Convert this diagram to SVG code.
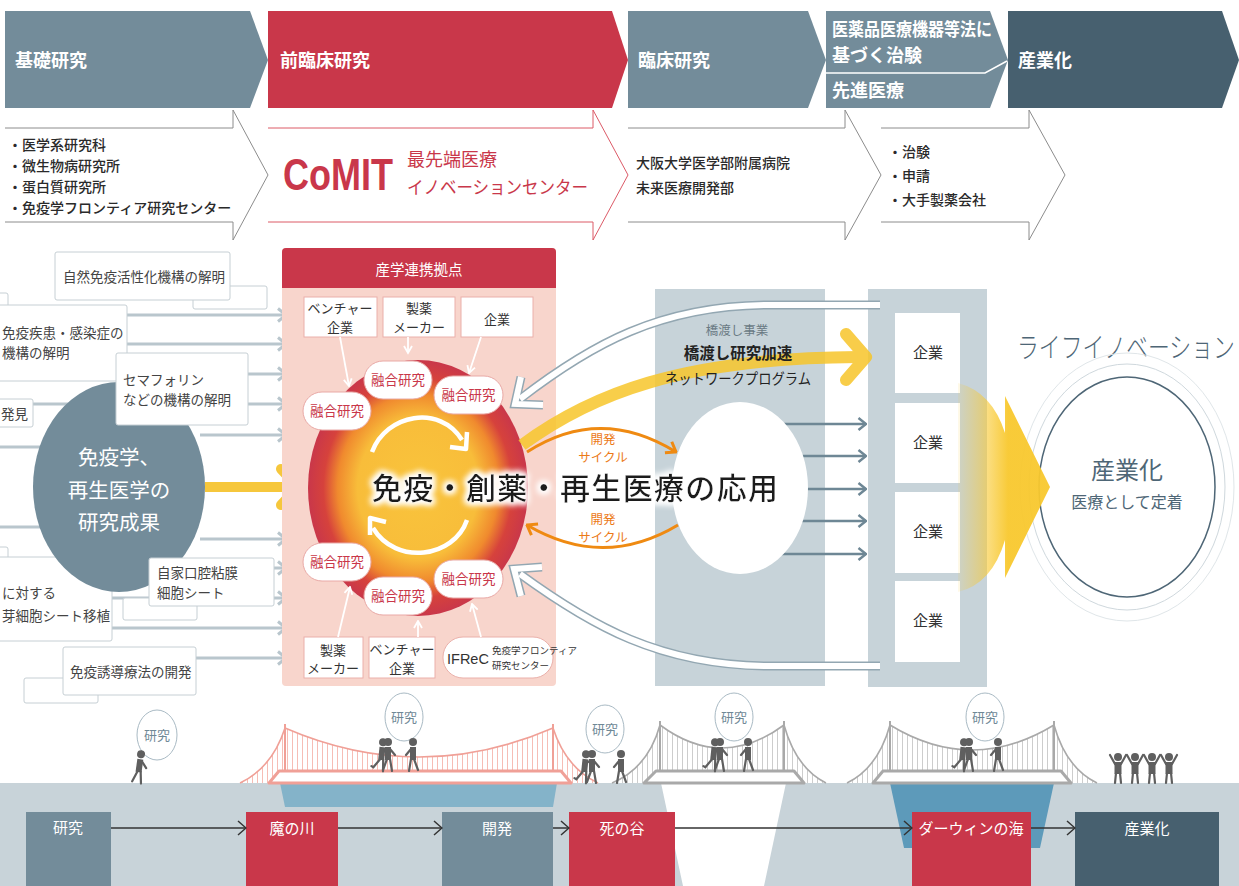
<svg xmlns="http://www.w3.org/2000/svg" width="1239" height="886" viewBox="0 0 1239 886">
<defs>
<style>
text{font-family:'Noto Sans CJK JP','Noto Sans CJK SC',sans-serif}
.hd{fill:#fff;font-size:18px;font-weight:700}
.row{fill:none;stroke-width:1}
.rt{fill:#2a2a2a;font-size:14px;font-weight:500}
.box{fill:#fff;stroke:#c6cfd4;stroke-width:1}
.lbl{fill:#444;font-size:13.5px}
.conn{stroke:#b9c6cd;stroke-width:3;fill:none}
.cbox{fill:#fff;stroke:#eab0aa;stroke-width:1}
.ctx{fill:#333;font-size:13px;text-anchor:middle}
.pill{fill:#fff;stroke:#e9a9a6;stroke-width:1}
.ptx{fill:#c9374a;font-size:13.5px;text-anchor:middle}
.wthin{stroke:#fff;stroke-width:1.8;fill:none}
.band-o{fill:none;stroke:#93a7b2;stroke-width:9}
.band-i{fill:none;stroke:#fff;stroke-width:6}
.org{fill:none;stroke:#ef8a12;stroke-width:3}
.otx{fill:#ec7a17;font-size:12.5px;text-anchor:middle}
.col{fill:#c7d3d9}
.ent{fill:#fff}
.etx{fill:#333;font-size:15px;text-anchor:middle}
.garr{stroke:#6e8795;stroke-width:2.5;fill:none}
.bt{fill:#fff;font-size:15px;text-anchor:middle}
.barr{stroke:#333;stroke-width:1.5;fill:none}
.bub{fill:#fff;stroke:#a9bac4;stroke-width:1}
.btx{fill:#6f8896;font-size:13px;text-anchor:middle}
.pk{fill:none;stroke:#f0a097}
.gy{fill:none;stroke:#a9a9a9}
.fig{fill:#5f5f5f}
.lim{stroke:#5f5f5f;stroke-width:2.2;fill:none;stroke-linecap:round}
</style>
<marker id="mGray" viewBox="0 0 11 16" refX="9.5" refY="8" markerWidth="11" markerHeight="16" markerUnits="userSpaceOnUse" orient="auto"><path d="M1.5 1.5 L9.5 8 L1.5 14.5" fill="none" stroke="#b9c6cd" stroke-width="3"/></marker>
<marker id="mSlate" viewBox="0 0 10 14" refX="9" refY="7" markerWidth="10" markerHeight="14" markerUnits="userSpaceOnUse" orient="auto"><path d="M1.5 1 L9 7 L1.5 13" fill="none" stroke="#6e8795" stroke-width="2.5"/></marker>
<marker id="mDark" viewBox="0 0 10 16" refX="9" refY="8" markerWidth="10" markerHeight="16" markerUnits="userSpaceOnUse" orient="auto"><path d="M1 1 L9 8 L1 15" fill="none" stroke="#333" stroke-width="1.5"/></marker>
<marker id="mOrg" viewBox="0 0 12 16" refX="10.5" refY="8" markerWidth="12" markerHeight="16" markerUnits="userSpaceOnUse" orient="auto"><path d="M1.5 1.5 L10.5 8 L1.5 14.5" fill="none" stroke="#ef8a12" stroke-width="3"/></marker>
<marker id="mWhite" viewBox="0 0 10 10" refX="8.5" refY="5" markerWidth="10" markerHeight="10" markerUnits="userSpaceOnUse" orient="auto"><path d="M1.5 1 L8.5 5 L1.5 9" fill="none" stroke="#fff" stroke-width="1.8"/></marker>
<radialGradient id="core" cx="0.5" cy="0.5" r="0.5">
<stop offset="0" stop-color="#f9c43c"/>
<stop offset="0.55" stop-color="#f8bd3a"/>
<stop offset="0.73" stop-color="#f08a2e"/>
<stop offset="0.86" stop-color="#d6423c"/>
<stop offset="1" stop-color="#c9374a"/>
</radialGradient>
<linearGradient id="funnel" x1="955" y1="0" x2="1008" y2="0" gradientUnits="userSpaceOnUse">
<stop offset="0" stop-color="#f8c82e" stop-opacity="0.05"/>
<stop offset="1" stop-color="#f8c82e" stop-opacity="1"/>
</linearGradient>
<pattern id="hangPink" width="5" height="10" patternUnits="userSpaceOnUse"><line x1="2.5" y1="0" x2="2.5" y2="10" stroke="#f6bdb5" stroke-width="1"/></pattern>
<pattern id="hangGray" width="5" height="10" patternUnits="userSpaceOnUse"><line x1="2.5" y1="0" x2="2.5" y2="10" stroke="#cdcdcd" stroke-width="1"/></pattern>
<filter id="halo" x="-5%" y="-60%" width="110%" height="220%">
<feMorphology in="SourceAlpha" operator="dilate" radius="2" result="d"/>
<feGaussianBlur in="d" stdDeviation="3" result="b"/>
<feFlood flood-color="#fff"/>
<feComposite in2="b" operator="in" result="g"/>
<feMerge><feMergeNode in="g"/><feMergeNode in="g"/><feMergeNode in="SourceGraphic"/></feMerge>
</filter>
<g id="walker"><circle cx="0" cy="-29" r="4" class="fig"/><path d="M-3 -24 h6 v13 h-6 z" class="fig"/><path d="M-1 -12 L-5 -1 M2 -12 L4 0 M2 -22 L7 -16" class="lim"/></g>
<g id="pusher"><circle cx="0" cy="-29" r="4" class="fig"/><path d="M-3 -24 h6 v13 h-6 z" class="fig"/><path d="M-1 -12 L-7 -3 L-9 -4 M2 -12 L3 0 M2 -22 L8 -20" class="lim"/></g>
<g id="cheer"><circle cx="0" cy="-26" r="4" class="fig"/><path d="M-3.5 -21 h7 v12 h-7 z" class="fig"/><path d="M-2 -10 L-3 0 M2 -10 L3 0 M-3 -19 L-8 -28 M3 -19 L8 -28" class="lim"/></g>
</defs>

<rect width="1239" height="886" fill="#fff"/>

<!-- stage headers -->
<g id="stage-basic"><polygon points="5,11 250,11 268,60 250,108 5,108" fill="#738c9a"/><text x="15" y="67" class="hd">基礎研究</text></g>
<g id="stage-preclinical"><polygon points="268,11 612,11 628,60 612,108 268,108" fill="#c9374a"/><text x="280" y="67" class="hd">前臨床研究</text></g>
<g id="stage-clinical"><polygon points="628,11 808,11 826,60 808,108 628,108" fill="#738c9a"/><text x="638" y="67" class="hd">臨床研究</text></g>
<g id="stage-trial"><polygon points="826,11 990,11 1008,60 990,108 826,108" fill="#738c9a"/><path d="M826 73 L985 73 L1007 61" fill="none" stroke="#fff" stroke-width="1.5"/><text x="832" y="36" class="hd" font-size="16.5" textLength="160" lengthAdjust="spacingAndGlyphs">医薬品医療機器等法に</text><text x="832" y="62" class="hd" font-size="17">基づく治験</text><text x="832" y="97" class="hd" font-size="17">先進医療</text></g>
<g id="stage-industry"><polygon points="1008,11 1222,11 1239,60 1222,108 1008,108" fill="#47606f"/><text x="1018" y="67" class="hd">産業化</text></g>

<!-- stage detail arrows -->
<g id="detail-basic"><path d="M5 128 L233 128 L233 110 L268 175 L233 240 L233 222 L5 222" class="row" stroke="#8c8c8c"/>
<text x="8" y="150" class="rt" font-size="13.5">・医学系研究科</text><text x="8" y="171" class="rt" font-size="13.5">・微生物病研究所</text><text x="8" y="192" class="rt" font-size="13.5">・蛋白質研究所</text><text x="8" y="213" class="rt" font-size="13.5">・免疫学フロンティア研究センター</text></g>
<g id="detail-comit"><path d="M268 128 L593 128 L593 110 L628 175 L593 240 L593 222 L268 222" class="row" stroke="#dc5a67"/>
<text x="0" y="0" transform="translate(283 190) scale(0.8 1)" fill="#c9374a" font-size="45" font-weight="700" style="font-family:'Liberation Sans',sans-serif">CoMIT</text>
<text x="407" y="166" fill="#c9374a" font-size="18">最先端医療</text><text x="407" y="194" fill="#c9374a" font-size="18" textLength="181" lengthAdjust="spacingAndGlyphs">イノベーションセンター</text></g>
<g id="detail-hospital"><path d="M628 128 L845 128 L845 110 L881 175 L845 240 L845 222 L628 222" class="row" stroke="#8c8c8c"/>
<text x="636" y="168" class="rt" font-size="15">大阪大学医学部附属病院</text><text x="636" y="193" class="rt" font-size="15">未来医療開発部</text></g>
<g id="detail-trial"><path d="M881 128 L1029 128 L1029 110 L1065 175 L1029 240 L1029 222 L881 222" class="row" stroke="#8c8c8c"/>
<text x="888" y="157" class="rt" font-size="15">・治験</text><text x="888" y="181" class="rt" font-size="15">・申請</text><text x="888" y="205" class="rt" font-size="15">・大手製薬会社</text></g>

<!-- columns behind the centre -->
<rect x="655" y="289" width="170" height="397" class="col"/>
<rect x="868" y="289" width="119" height="398" class="col"/>

<!-- research-result connectors on the left -->
<g id="connectors">
<line x1="0" y1="315" x2="286" y2="315" class="conn" marker-end="url(#mGray)"/>
<line x1="0" y1="344" x2="286" y2="344" class="conn" marker-end="url(#mGray)"/>
<line x1="0" y1="374" x2="286" y2="374" class="conn" marker-end="url(#mGray)"/>
<line x1="0" y1="404" x2="286" y2="404" class="conn" marker-end="url(#mGray)"/>
<line x1="200" y1="435" x2="286" y2="435" class="conn" marker-end="url(#mGray)"/>
<line x1="200" y1="539" x2="286" y2="539" class="conn" marker-end="url(#mGray)"/>
<line x1="0" y1="568" x2="286" y2="568" class="conn" marker-end="url(#mGray)"/>
<line x1="0" y1="598" x2="286" y2="598" class="conn" marker-end="url(#mGray)"/>
<line x1="0" y1="628" x2="286" y2="628" class="conn" marker-end="url(#mGray)"/>
<line x1="100" y1="658" x2="286" y2="658" class="conn" marker-end="url(#mGray)"/>
<path d="M0 447 H45 M0 527 H45" class="conn"/>
<path d="M205 487 H292" stroke="#f6c73c" stroke-width="10" fill="none"/>
<path d="M281 469 L298 487 L281 505" stroke="#f6c73c" stroke-width="10" fill="none" stroke-linecap="round" stroke-linejoin="round"/>
<line x1="780" y1="424" x2="866" y2="424" class="garr" marker-end="url(#mSlate)"/>
<line x1="790" y1="456" x2="866" y2="456" class="garr" marker-end="url(#mSlate)"/>
<line x1="790" y1="489" x2="866" y2="489" class="garr" marker-end="url(#mSlate)"/>
<line x1="790" y1="521" x2="866" y2="521" class="garr" marker-end="url(#mSlate)"/>
<line x1="780" y1="554" x2="866" y2="554" class="garr" marker-end="url(#mSlate)"/>
</g>

<!-- left result boxes -->
<g id="res-innate"><rect x="193" y="286" width="74" height="23" rx="2" class="box"/><rect x="55" y="252" width="175" height="48" rx="2" class="box"/><text x="63" y="282" class="lbl">自然免疫活性化機構の解明</text></g>
<g id="res-disease"><rect x="-10" y="293" width="18" height="14" rx="2" class="box"/><rect x="-10" y="305" width="137" height="76" rx="2" class="box"/><text x="2" y="338" class="lbl" font-size="14">免疫疾患・感染症の</text><text x="2" y="358" class="lbl" font-size="14">機構の解明</text></g>
<g id="res-discovery"><rect x="-10" y="399" width="43" height="28" rx="2" class="box"/><text x="1" y="419" class="lbl" font-size="14">発見</text></g>
<g id="res-sheet"><rect x="-10" y="547" width="18" height="12" rx="2" class="box"/><rect x="-10" y="557" width="122" height="84" rx="2" class="box"/><text x="2" y="598" class="lbl" font-size="14">に対する</text><text x="2" y="621" class="lbl" font-size="14">芽細胞シート移植</text></g>
<g id="res-induction"><rect x="24" y="678" width="74" height="25" rx="2" class="box"/><rect x="63" y="647" width="133" height="48" rx="2" class="box"/><text x="70" y="677" class="lbl">免疫誘導療法の開発</text></g>

<g id="results-core"><ellipse cx="119" cy="487" rx="86" ry="105" fill="#738c9a"/>
<text x="119" y="465" fill="#fff" font-size="20.5" text-anchor="middle">免疫学、</text><text x="119" y="498" fill="#fff" font-size="20.5" text-anchor="middle">再生医学の</text><text x="119" y="530" fill="#fff" font-size="20.5" text-anchor="middle">研究成果</text></g>

<g id="res-semaphorin"><rect x="116" y="353" width="132" height="72" rx="2" class="box"/><text x="123" y="385" class="lbl" font-size="14">セマフォリン</text><text x="123" y="405" class="lbl" font-size="14">などの機構の解明</text></g>
<g id="res-oral"><rect x="123" y="598" width="74" height="22" rx="2" class="box"/><rect x="149" y="558" width="125" height="48" rx="2" class="box"/><text x="157" y="578" class="lbl" font-size="14">自家口腔粘膜</text><text x="157" y="598" class="lbl" font-size="14">細胞シート</text></g>

<!-- industry-academia hub -->
<g id="hub">
<rect x="282" y="248" width="274" height="438" rx="4" fill="#f8d5cc"/>
<path d="M282 288 V252 Q282 248 286 248 H552 Q556 248 556 252 V288 Z" fill="#c9374a"/>
<text x="419" y="275" fill="#fff" font-size="14.5" text-anchor="middle">産学連携拠点</text>
<ellipse cx="418" cy="488" rx="110" ry="128" fill="url(#core)"/>
<path d="M372 452 C386 414 440 404 462 440" fill="none" stroke="#fff" stroke-width="4.5"/>
<path d="M450 447 L466 449 L467 432" fill="none" stroke="#fff" stroke-width="4.5" stroke-linejoin="round"/>
<path d="M467 520 C454 558 396 566 373 528" fill="none" stroke="#fff" stroke-width="4.5"/>
<path d="M386 522 L370 518 L370 535" fill="none" stroke="#fff" stroke-width="4.5" stroke-linejoin="round"/>
</g>

<g id="hub-partners">
<g id="p-venture-top"><rect x="304" y="297" width="73" height="40" class="cbox"/><text x="340" y="313" class="ctx">ベンチャー</text><text x="340" y="332" class="ctx">企業</text></g>
<g id="p-pharma-top"><rect x="383" y="297" width="72" height="40" class="cbox"/><text x="419" y="313" class="ctx">製薬</text><text x="419" y="332" class="ctx">メーカー</text></g>
<g id="p-company-top"><rect x="461" y="297" width="72" height="40" class="cbox"/><text x="497" y="324" class="ctx" font-size="14">企業</text></g>
<g id="p-pharma-bot"><rect x="304" y="637" width="59" height="41" class="cbox"/><text x="333" y="655" class="ctx">製薬</text><text x="333" y="673" class="ctx">メーカー</text></g>
<g id="p-venture-bot"><rect x="369" y="637" width="66" height="41" class="cbox"/><text x="402" y="654" class="ctx">ベンチャー</text><text x="402" y="673" class="ctx">企業</text></g>
<g id="p-ifrec"><rect x="443" y="637" width="110" height="41" rx="20" class="cbox"/><text x="447" y="664" fill="#333" font-size="14.5" style="font-family:'Liberation Sans',sans-serif">IFReC</text><text x="492" y="654" fill="#333" font-size="9.5">免疫学フロンティア</text><text x="492" y="669" fill="#333" font-size="9.5">研究センター</text></g>
</g>

<g id="hub-links">
<line x1="340" y1="337" x2="349" y2="386" class="wthin" marker-end="url(#mWhite)"/>
<line x1="408" y1="337" x2="408" y2="353" class="wthin" marker-end="url(#mWhite)"/>
<line x1="481" y1="337" x2="469" y2="373" class="wthin" marker-end="url(#mWhite)"/>
<line x1="338" y1="637" x2="350" y2="587" class="wthin" marker-end="url(#mWhite)"/>
<line x1="418" y1="637" x2="418" y2="621" class="wthin" marker-end="url(#mWhite)"/>
<line x1="481" y1="637" x2="472" y2="604" class="wthin" marker-end="url(#mWhite)"/>
</g>

<g id="fusion">
<g><rect x="364" y="361" width="68" height="38" rx="19" class="pill"/><text x="398" y="385" class="ptx">融合研究</text></g>
<g><rect x="434" y="376" width="69" height="38" rx="19" class="pill"/><text x="468.5" y="400" class="ptx">融合研究</text></g>
<g><rect x="303" y="392" width="68" height="38" rx="19" class="pill"/><text x="337" y="416" class="ptx">融合研究</text></g>
<g><rect x="303" y="543" width="68" height="38" rx="19" class="pill"/><text x="337" y="567" class="ptx">融合研究</text></g>
<g><rect x="364" y="577" width="68" height="38" rx="19" class="pill"/><text x="398" y="601" class="ptx">融合研究</text></g>
<g><rect x="434" y="560" width="69" height="38" rx="19" class="pill"/><text x="468.5" y="584" class="ptx">融合研究</text></g>
</g>

<!-- bridging programme -->
<g id="bridge-program">
<ellipse cx="740" cy="488" rx="68" ry="86" fill="#fff"/>
<text x="737" y="335" fill="#6a7a84" font-size="12.5" text-anchor="middle">橋渡し事業</text>
</g>

<g id="feedback">
<path d="M880 305 L770 305 C660 305 590 345 520 399" class="band-o"/>
<path d="M521 377 L515 404 L543 405" class="band-o" stroke-linejoin="miter"/>
<path d="M880 305 L770 305 C660 305 590 345 520 399" class="band-i"/>
<path d="M521 377 L515 404 L543 405" class="band-i" stroke-linejoin="miter"/>
<path d="M880 666 L770 666 C660 666 590 625 520 574" class="band-o"/>
<path d="M521 596 L514 569 L542 567" class="band-o" stroke-linejoin="miter"/>
<path d="M880 666 L770 666 C660 666 590 625 520 574" class="band-i"/>
<path d="M521 596 L514 569 L542 567" class="band-i" stroke-linejoin="miter"/>
</g>

<g id="accel" opacity="0.85">
<path d="M522 445 C590 395 680 358 858 357" fill="none" stroke="#f7c52a" stroke-width="12"/>
<path d="M846 334 L866 357 L846 380" fill="none" stroke="#f7c52a" stroke-width="12" stroke-linecap="round" stroke-linejoin="round"/>
</g>
<text x="738" y="359" fill="#222" font-size="15.5" font-weight="700" text-anchor="middle">橋渡し研究加速</text>
<text x="738" y="384" fill="#222" font-size="14.5" text-anchor="middle" textLength="146" lengthAdjust="spacingAndGlyphs">ネットワークプログラム</text>

<g id="dev-cycle">
<path d="M527 452 Q600 405 676 452" class="org" marker-end="url(#mOrg)"/>
<path d="M678 525 Q603 570 527 525" class="org" marker-end="url(#mOrg)"/>
<text x="603" y="444" class="otx">開発</text><text x="603" y="462" class="otx">サイクル</text>
<text x="603" y="524" class="otx">開発</text><text x="603" y="542" class="otx">サイクル</text>
</g>

<text x="372" y="499" fill="#1b1b1b" font-size="30" font-weight="500" filter="url(#halo)" textLength="406" lengthAdjust="spacing">免疫・創薬・再生医療の応用</text>

<!-- companies -->
<g id="companies">
<g><rect x="895" y="313" width="65" height="80" class="ent"/><text x="928" y="358" class="etx">企業</text></g>
<g><rect x="895" y="403" width="65" height="80" class="ent"/><text x="928" y="448" class="etx">企業</text></g>
<g><rect x="895" y="492" width="65" height="81" class="ent"/><text x="928" y="537" class="etx">企業</text></g>
<g><rect x="895" y="581" width="65" height="81" class="ent"/><text x="928" y="626" class="etx">企業</text></g>
</g>

<!-- life innovation -->
<g id="life-innovation">
<text x="0" y="0" transform="translate(1017 358) scale(0.78 1)" fill="#4e6676" font-size="28" font-weight="300">ライフイノベーション</text>
<ellipse cx="1127" cy="487" rx="107" ry="134" fill="none" stroke="#e0e6e9"/>
<ellipse cx="1127" cy="487" rx="98" ry="123" fill="none" stroke="#cfd8dd"/>
<ellipse cx="1127" cy="487" rx="88" ry="110" fill="#fff" stroke="#4e6676" stroke-width="1.5"/>
<path d="M958 383 Q992 392 1005 433 L1005 396 L1050 487 L1005 578 L1005 540 Q992 584 958 592 Z" fill="url(#funnel)" opacity="0.95"/>
<text x="1127" y="479" fill="#4e6676" font-size="24" text-anchor="middle">産業化</text>
<text x="1127" y="508" fill="#4e6676" font-size="16" text-anchor="middle">医療として定着</text>
</g>

<!-- ground, river, valley, sea -->
<g id="terrain">
<rect x="0" y="783" width="1239" height="103" fill="#c8d3d9"/>
<polygon points="280,783 557,783 553,807 285,807" fill="#84b3c9"/>
<polygon points="661,783 786,783 764,886 683,886" fill="#fff"/>
<polygon points="890,783 1054,783 1040,848 904,848" fill="#5d9aba"/>
</g>

<g id="stage-bar">
<g><rect x="26" y="812" width="85" height="74" fill="#738c9a"/><text x="68" y="833" class="bt" font-size="14">研究</text></g>
<g><rect x="246" y="812" width="92" height="74" fill="#c9374a"/><text x="292" y="834" class="bt" font-size="16">魔の川</text></g>
<g><rect x="442" y="812" width="111" height="74" fill="#738c9a"/><text x="497" y="834" class="bt" font-size="16">開発</text></g>
<g><rect x="569" y="812" width="106" height="74" fill="#c9374a"/><text x="622" y="834" class="bt" font-size="16">死の谷</text></g>
<g><rect x="912" y="812" width="119" height="74" fill="#c9374a"/><text x="971" y="834" class="bt" font-size="15.5">ダーウィンの海</text></g>
<g><rect x="1075" y="812" width="144" height="74" fill="#47606f"/><text x="1147" y="834" class="bt" font-size="16">産業化</text></g>
</g>
<g id="stage-bar-links">
<line x1="111" y1="828" x2="246" y2="828" class="barr" marker-end="url(#mDark)"/>
<line x1="338" y1="828" x2="442" y2="828" class="barr" marker-end="url(#mDark)"/>
<line x1="553" y1="828" x2="569" y2="828" class="barr" marker-end="url(#mDark)"/>
<line x1="675" y1="828" x2="912" y2="828" class="barr" marker-end="url(#mDark)"/>
<line x1="1031" y1="828" x2="1075" y2="828" class="barr" marker-end="url(#mDark)"/>
</g>

<!-- bridges -->
<g id="bridge-river">
<path d="M285 728 Q419 786 553 728 L553 771 L285 771 Z" fill="url(#hangPink)"/>
<path d="M285 728 Q272 768 240 783 L285 783 Z" fill="url(#hangPink)"/>
<path d="M553 728 Q566 768 598 783 L553 783 Z" fill="url(#hangPink)"/>
<path d="M269 783 L279 771 L561 771 L571 783 Z" fill="#fff" stroke="#f0a097" stroke-width="3" stroke-linejoin="round"/>
<path d="M240 783 Q272 768 285 728 Q419 786 553 728 Q566 768 598 783" class="pk" stroke-width="1.6"/>
<path d="M285 724 V771 M553 724 V771" class="pk" stroke-width="2"/>
</g>
<g id="bridge-valley">
<path d="M660 725 Q722 771 784 725 L784 771 L660 771 Z" fill="url(#hangGray)"/>
<path d="M660 725 Q648 768 612 783 L660 783 Z" fill="url(#hangGray)"/>
<path d="M784 725 Q796 768 826 783 L784 783 Z" fill="url(#hangGray)"/>
<path d="M644 783 L656 771 L794 771 L804 783 Z" fill="#fff" stroke="#a9a9a9" stroke-width="3" stroke-linejoin="round"/>
<path d="M612 783 Q648 768 660 725 Q722 771 784 725 Q796 768 826 783" class="gy" stroke-width="1.6"/>
<path d="M660 721 V771 M784 721 V771" class="gy" stroke-width="2"/>
</g>
<g id="bridge-sea">
<path d="M890 725 Q972 775 1054 725 L1054 771 L890 771 Z" fill="url(#hangGray)"/>
<path d="M890 725 Q878 768 847 783 L890 783 Z" fill="url(#hangGray)"/>
<path d="M1054 725 Q1066 768 1097 783 L1054 783 Z" fill="url(#hangGray)"/>
<path d="M873 783 L883 771 L1061 771 L1071 783 Z" fill="#fff" stroke="#a9a9a9" stroke-width="3" stroke-linejoin="round"/>
<path d="M847 783 Q878 768 890 725 Q972 775 1054 725 Q1066 768 1097 783" class="gy" stroke-width="1.6"/>
<path d="M890 721 V771 M1054 721 V771" class="gy" stroke-width="2"/>
</g>

<!-- people carrying research -->
<g id="team-start">
<ellipse cx="157" cy="735" rx="20" ry="25" class="bub"/><text x="157" y="740" class="btx">研究</text>
<use href="#walker" transform="translate(137 783) rotate(8)"/>
</g>
<g id="team-river">
<ellipse cx="404" cy="717" rx="19" ry="24" class="bub"/><text x="404" y="722" class="btx">研究</text>
<use href="#pusher" transform="translate(380 771) rotate(6)"/>
<use href="#walker" transform="translate(388 771)"/>
<use href="#walker" transform="translate(413 771) scale(-1 1)"/>
</g>
<g id="team-valley">
<ellipse cx="605" cy="729" rx="19" ry="24" class="bub"/><text x="605" y="734" class="btx">研究</text>
<use href="#pusher" transform="translate(583 783) rotate(6)"/>
<use href="#walker" transform="translate(592 783)"/>
<use href="#walker" transform="translate(621 783) scale(-1 1)"/>
</g>
<g id="team-dev">
<ellipse cx="734" cy="717" rx="19" ry="24" class="bub"/><text x="734" y="722" class="btx">研究</text>
<use href="#pusher" transform="translate(712 771) rotate(6)"/>
<use href="#walker" transform="translate(720 771)"/>
<use href="#walker" transform="translate(748 771) scale(-1 1)"/>
</g>
<g id="team-sea">
<ellipse cx="985" cy="717" rx="19" ry="24" class="bub"/><text x="985" y="722" class="btx">研究</text>
<use href="#pusher" transform="translate(961 771) rotate(6)"/>
<use href="#walker" transform="translate(969 771)"/>
<use href="#walker" transform="translate(998 771) scale(-1 1)"/>
</g>
<g id="team-goal">
<use href="#cheer" transform="translate(1118 783)"/>
<use href="#cheer" transform="translate(1135 783)"/>
<use href="#cheer" transform="translate(1152 783)"/>
<use href="#cheer" transform="translate(1169 783)"/>
</g>
</svg>
